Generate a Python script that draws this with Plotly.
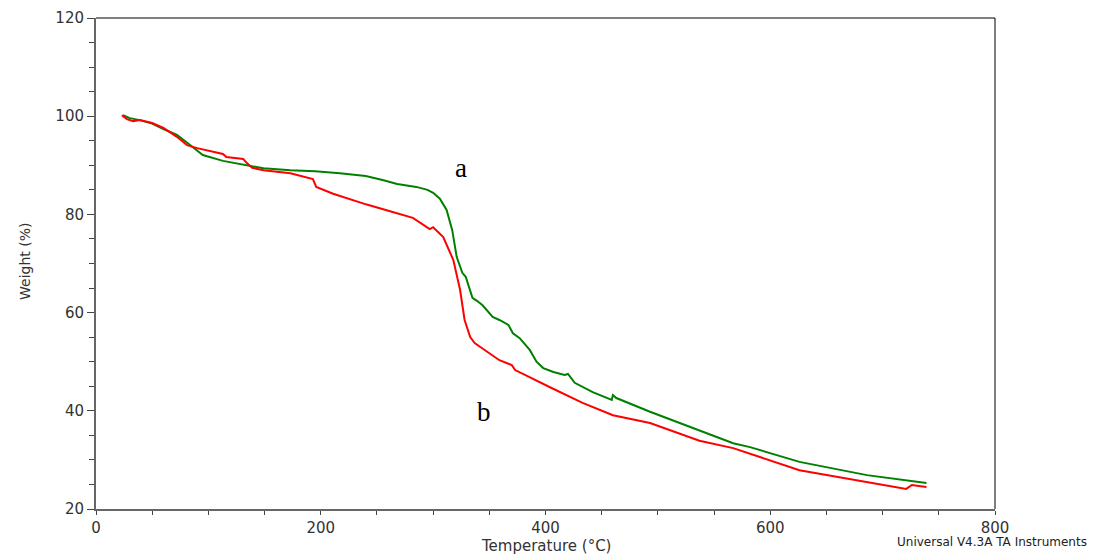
import plotly.graph_objects as go

# Curve a (green)
temp_a = [24, 30, 39, 50, 60, 72, 84, 95, 113, 137, 149, 173, 195, 217, 240, 255, 268, 285, 295, 300, 306, 312, 317, 321, 326, 329, 335, 339, 344, 353, 359, 367, 371, 377, 386, 392, 398, 407, 417, 420, 426, 442, 459, 460, 463, 493, 537, 567, 582, 626, 686, 739]
weight_a = [100.2, 99.6, 99.2, 98.5, 97.4, 96.2, 94.1, 92.1, 90.9, 89.9, 89.4, 89.0, 88.8, 88.4, 87.8, 87.0, 86.2, 85.6, 85.0, 84.4, 83.2, 80.9, 76.8, 71.3, 68.1, 67.3, 63.0, 62.4, 61.5, 59.1, 58.5, 57.5, 55.8, 54.8, 52.4, 50.0, 48.7, 47.9, 47.3, 47.5, 45.7, 43.8, 42.2, 43.2, 42.6, 39.8, 36.0, 33.4, 32.6, 29.6, 26.9, 25.3]

# Curve b (red)
temp_b = [23, 27.5, 33, 39, 50, 60, 72, 81, 90, 113, 116, 131, 134, 139, 149, 173, 193, 196, 211, 241, 264, 282, 297, 300, 309, 318, 324, 328, 333, 337, 342, 359, 370, 373, 404, 433, 460, 493, 537, 567, 626, 686, 721, 726, 739]
weight_b = [100.2, 99.4, 99.0, 99.2, 98.6, 97.6, 95.8, 94.1, 93.5, 92.3, 91.7, 91.3, 90.5, 89.5, 89.0, 88.4, 87.2, 85.6, 84.2, 82.0, 80.5, 79.3, 77.0, 77.4, 75.4, 70.7, 64.6, 58.5, 55.0, 53.8, 53.0, 50.3, 49.3, 48.3, 44.8, 41.6, 39.1, 37.5, 33.9, 32.4, 27.9, 25.5, 24.1, 24.9, 24.5]

x_ticks = [0, 200, 400, 600, 800]
y_ticks = [20, 40, 60, 80, 100, 120]

W, H = 1093, 554
L, T = 96, 18
pw, ph = 899, 491
R = W - L - pw
B = H - T - ph

def px_x(p):
    return (p - L) / pw

def px_y(p):
    return (T + ph - p) / ph

fig = go.Figure()
fig.add_trace(go.Scatter(x=temp_a, y=weight_a, mode="lines",
                         line=dict(color="#008000", width=2), name="a"))
fig.add_trace(go.Scatter(x=temp_b, y=weight_b, mode="lines",
                         line=dict(color="#ff0000", width=2), name="b"))

fig.add_annotation(x=325, y=89.5, text="a", showarrow=False,
                   font=dict(family="Liberation Serif", size=27, color="#000"))
fig.add_annotation(x=345, y=39.8, text="b", showarrow=False,
                   font=dict(family="Liberation Serif", size=27, color="#000"))

fig.add_annotation(xref="paper", yref="paper", x=px_x(1089), y=px_y(542),
                   xanchor="right", yanchor="middle",
                   text="Universal V4.3A TA Instruments", showarrow=False,
                   font=dict(family="DejaVu Sans", size=12, color="#222"))

# axis titles
fig.add_annotation(xref="paper", yref="paper", x=px_x(546), y=px_y(546),
                   xanchor="center", yanchor="middle", text="Temperature (°C)",
                   showarrow=False, font=dict(family="DejaVu Sans", size=15, color="#333"))
fig.add_annotation(xref="paper", yref="paper", x=px_x(25), y=px_y(262),
                   xanchor="center", yanchor="middle", text="Weight (%)", textangle=-90,
                   showarrow=False, font=dict(family="DejaVu Sans", size=14, color="#333"))

# top and right black frame lines
fig.add_shape(type="line", xref="paper", yref="paper", x0=0, x1=1, y0=1, y1=1,
              line=dict(color="black", width=1))
fig.add_shape(type="line", xref="paper", yref="paper", x0=1, x1=1, y0=0, y1=1,
              line=dict(color="black", width=1))

fig.update_layout(
    width=W, height=H,
    margin=dict(l=L, r=R, t=T, b=B),
    paper_bgcolor="white", plot_bgcolor="white",
    showlegend=False,
    font=dict(family="DejaVu Sans", color="#333"),
    xaxis=dict(range=[0, 800], tickvals=x_ticks, ticks="outside", ticklen=4,
               tickcolor="#444", showline=True, linecolor="#666", linewidth=2,
               showgrid=False, zeroline=False, automargin=False,
               tickfont=dict(size=15, color="#333"),
               minor=dict(dtick=50, ticks="outside", ticklen=4, tickcolor="#444")),
    yaxis=dict(range=[20, 120], tickvals=y_ticks, ticks="outside", ticklen=7,
               tickcolor="#444", showline=True, linecolor="#666", linewidth=2,
               showgrid=False, zeroline=False, automargin=False,
               tickfont=dict(size=15, color="#333"),
               minor=dict(dtick=5, ticks="outside", ticklen=5, tickcolor="#444")),
)

fig.write_html("out.html", config={"displayModeBar": False},
               post_script="document.body.style.margin='0';document.body.style.overflow='hidden';")
